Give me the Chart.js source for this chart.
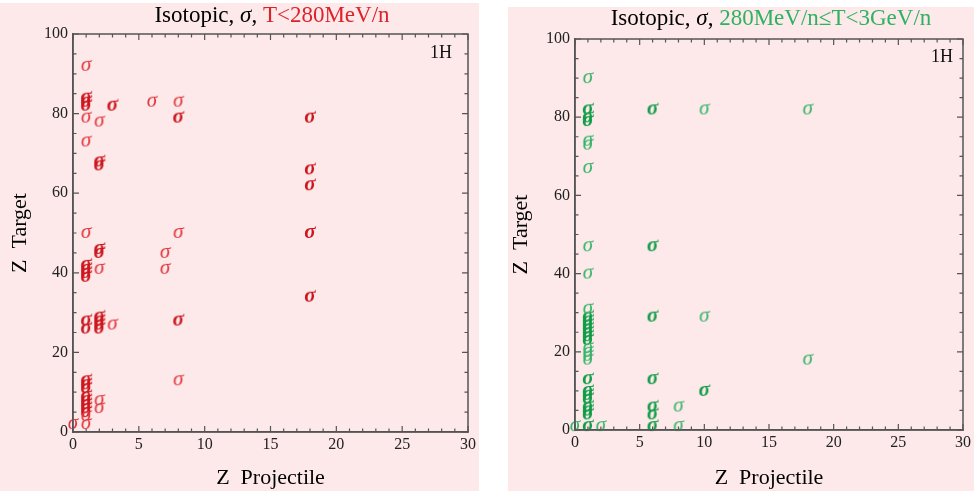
<!DOCTYPE html>
<html>
<head>
<meta charset="utf-8">
<script src="https://cdn.jsdelivr.net/npm/chart.js@4/dist/chart.umd.min.js"></script>
<style>
  html, body { margin:0; padding:0; background:#ffffff; width:974px; height:491px; overflow:hidden; }
  .panel { position:absolute; background:#fde9e9; }
  .ttl { position:absolute; font-family:"Liberation Serif", serif; font-size:23px; line-height:27px; white-space:nowrap; color:#000; transform:translateX(-50%); }
  .tag { position:absolute; font-family:"Liberation Serif", serif; font-size:18px; line-height:20px; color:#111; transform:translateX(-50%); }
  canvas { position:absolute; left:0; top:0; }
</style>
</head>
<body>
<div class="panel" id="pL" style="left:0;top:3px;width:479px;height:488px;">
  <canvas id="cL" width="479" height="488"></canvas>
</div>
<div class="panel" id="pR" style="left:508px;top:7px;width:466px;height:484px;">
  <canvas id="cR" width="466" height="484"></canvas>
</div>
<div class="ttl" style="left:272px;top:1px;">Isotopic, <i>σ</i>, <span style="color:#de2229">T&lt;280MeV/n</span></div>
<div class="ttl" style="left:771px;top:4px;">Isotopic, <i>σ</i>, <span style="color:#2db262">280MeV/n≤T&lt;3GeV/n</span></div>
<div class="tag" style="left:441px;top:42px;">1H</div>
<div class="tag" style="left:942px;top:46px;">1H</div>
<script>
// ---- data (Z projectile, Z target) ----
const lowLightZ  = [1,6,8,1,2,1,1,8,7,2,7,3,8,2,2,1,1,0];
const lowLightY  = [92,83,83,79,78,73,50,50,45,41,41,27,13,8,6,4,2,2];
const lowBoldZ   = [1,1,1,3,8,18,2,2,18,18,18,2,2,1,1,1,1,18,1,1,2,2,2,2,8,1,1,1,1,1,1,1,1];
const lowBoldY   = [82,83,84,82,79,79,67,68,66,62,50,45,46,39,40,41,42,34,26,28,26,27,28,29,28,11,12,13,5,6,7,8,9];
const highLightZ = [1,10,18,1,1,1,1,1,1,10,18,1,1,1,1,8,8,2,0];
const highLightY = [90,82,82,73,74,67,47,40,31,29,18,18,19,20,21,6,1,1,1];
const highBoldZ  = [1,6,1,1,6,1,1,1,1,1,1,1,6,1,6,1,1,1,10,1,1,1,6,6,6,1];
const highBoldY  = [82,82,79,80,47,23,24,25,26,27,28,29,29,13,13,8,9,10,10,4,5,6,4,6,1,1];
const xTickValues = [0,5,10,15,20,25,30];
const yTickValues = [0,20,40,60,80,100];

function zip(xs, ys) { return xs.map((x, i) => ({x: x, y: ys[i]})); }

function glyph(color, bold) {
  const c = document.createElement('canvas');
  c.width = 24; c.height = 24;
  const g = c.getContext('2d');
  g.font = 'italic ' + (bold ? 'bold ' : '') + '21px "Liberation Serif"';
  g.fillStyle = color;
  g.textAlign = 'center';
  g.textBaseline = 'alphabetic';
  g.fillText('σ', 12, 16.5);
  return c;
}

const frameTicks = {
  id: 'frameTicks',
  afterDraw(chart) {
    const {ctx, chartArea: a, scales: {x, y}} = chart;
    ctx.save();
    ctx.strokeStyle = '#555';
    ctx.lineWidth = 1.5;
    ctx.strokeRect(a.left, a.top, a.right - a.left, a.bottom - a.top);
    ctx.lineWidth = 1.2;
    ctx.beginPath();
    for (let v = 0; v <= 30; v += 1) {
      const px = x.getPixelForValue(v);
      const L = (v % 5 === 0) ? 6 : 3.5;
      ctx.moveTo(px, a.bottom); ctx.lineTo(px, a.bottom - L);
      ctx.moveTo(px, a.top); ctx.lineTo(px, a.top + L);
    }
    for (let v = 0; v <= 100; v += 5) {
      const py = y.getPixelForValue(v);
      const L = (v % 20 === 0) ? 6 : 3.5;
      ctx.moveTo(a.left, py); ctx.lineTo(a.left + L, py);
      ctx.moveTo(a.right, py); ctx.lineTo(a.right - L, py);
    }
    ctx.stroke();
    ctx.restore();
  }
};

function makeChart(id, light, bold, lightColor, boldColor, yW, xH, pad, yTitlePad) {
  const tickFont = {family: '"Liberation Serif"', size: 16};
  const titleFont = {family: '"Liberation Serif"', size: 22};
  return new Chart(document.getElementById(id), {
    type: 'scatter',
    data: {
      datasets: [
        {data: light, pointStyle: glyph(lightColor, false), pointRadius: 3, clip: false},
        {data: bold, pointStyle: glyph(boldColor, true), pointRadius: 3, clip: false}
      ]
    },
    options: {
      responsive: false, animation: false, events: [],
      layout: {padding: pad},
      plugins: {legend: {display: false}, tooltip: {enabled: false}},
      scales: {
        x: {
          type: 'linear', min: 0, max: 30,
          afterBuildTicks: s => { s.ticks = xTickValues.map(v => ({value: v})); },
          afterFit: s => { s.height = xH; },
          grid: {drawOnChartArea: false, drawTicks: false},
          border: {display: true, color: '#555', width: 1.5},
          ticks: {font: tickFont, color: '#222', padding: 3, maxRotation: 0},
          title: {display: true, text: 'Z  Projectile', font: titleFont, color: '#000', padding: {top: 0, bottom: 0}}
        },
        y: {
          type: 'linear', min: 0, max: 100,
          afterBuildTicks: s => { s.ticks = yTickValues.map(v => ({value: v})); },
          afterFit: s => { s.width = yW; },
          grid: {drawOnChartArea: false, drawTicks: false},
          border: {display: true, color: '#555', width: 1.5},
          ticks: {font: tickFont, color: '#222', padding: 5},
          title: {display: true, text: 'Z  Target', font: titleFont, color: '#000', padding: {top: yTitlePad, bottom: 0}}
        }
      }
    },
    plugins: [frameTicks]
  });
}

makeChart('cL', zip(lowLightZ, lowLightY), zip(lowBoldZ, lowBoldY), '#e2373e', '#cc161e', 73, 59, {top: 31, right: 10, left: 0, bottom: 0}, 7);
makeChart('cR', zip(highLightZ, highLightY), zip(highBoldZ, highBoldY), '#35b569', '#0f9c47', 67, 61, {top: 32, right: 7, left: 0, bottom: 0}, 0);
</script>
</body>
</html>
